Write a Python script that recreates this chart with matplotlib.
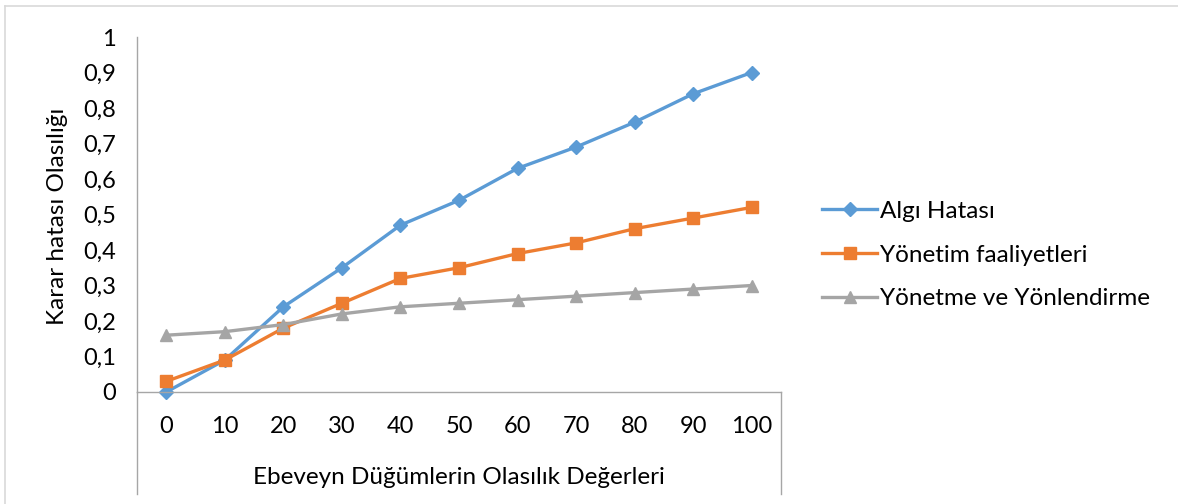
import matplotlib
matplotlib.use("Agg")
import matplotlib.pyplot as plt
from matplotlib.lines import Line2D

# Data
categories = ["0", "10", "20", "30", "40", "50", "60", "70", "80", "90", "100"]
algi_hatasi = [0.00, 0.09, 0.24, 0.35, 0.47, 0.54, 0.63, 0.69, 0.76, 0.84, 0.90]
yonetim_faaliyetleri = [0.03, 0.09, 0.18, 0.25, 0.32, 0.35, 0.39, 0.42, 0.46, 0.49, 0.52]
yonetme_yonlendirme = [0.16, 0.17, 0.19, 0.22, 0.24, 0.25, 0.26, 0.27, 0.28, 0.29, 0.30]
series_names = ["Algı Hatası", "Yönetim faaliyetleri", "Yönetme ve Yönlendirme"]
y_ticks = [0, 0.1, 0.2, 0.3, 0.4, 0.5, 0.6, 0.7, 0.8, 0.9, 1.0]
y_tick_labels = ["0", "0,1", "0,2", "0,3", "0,4", "0,5", "0,6", "0,7", "0,8", "0,9", "1"]
x_title = "Ebeveyn Düğümlerin Olasılık Değerleri"
y_title = "Karar hatası Olasılığı"

plt.rcParams["font.family"] = ["Lato", "DejaVu Sans"]
FS = 17
FS_TEXT = 17.5

W, H = 1178, 504
fig = plt.figure(figsize=(W / 100, H / 100), dpi=100)

def fx(px):
    return px / W

def fy(py):
    return 1 - py / H

# Plot area
x0, x1, ytop, ybot = 137, 781, 37, 392
ax = fig.add_axes([fx(x0), fy(ybot), fx(x1) - fx(x0), fy(ytop) - fy(ybot)])
ax.set_xlim(-0.5, len(categories) - 0.5)
ax.set_ylim(0, 1)

xs = list(range(len(categories)))
blue, orange, gray = "#5B9BD5", "#ED7D31", "#A5A5A5"
ax.plot(xs, algi_hatasi, color=blue, lw=2.4, marker="D", ms=7.5, label=series_names[0], clip_on=False)
ax.plot(xs, yonetim_faaliyetleri, color=orange, lw=2.4, marker="s", ms=9, label=series_names[1], clip_on=False)
ax.plot(xs, yonetme_yonlendirme, color=gray, lw=2.4, marker="^", ms=9, label=series_names[2], clip_on=False)

ax.set_xticks(xs)
ax.set_xticklabels(categories)
ax.set_yticks(y_ticks)
ax.set_yticklabels(y_tick_labels)
ax.tick_params(axis="both", length=0, labelsize=FS, colors="black")
ax.tick_params(axis="y", pad=15)
ax.tick_params(axis="x", pad=17)

for s in ("top", "right"):
    ax.spines[s].set_visible(False)
ax.spines["left"].set_color("#A6A6A6")
ax.spines["bottom"].set_color("#A6A6A6")
ax.spines["left"].set_linewidth(1.0)
ax.spines["bottom"].set_linewidth(1.0)
ax.patch.set_visible(False)

# Category label box below the axis
for px in (x0, x1):
    fig.add_artist(Line2D([fx(px), fx(px)], [fy(ybot), fy(494)], color="#A6A6A6", lw=1.0))

# Outer chart border
fig.add_artist(Line2D([fx(5), fx(5)], [fy(6), 0], color="#D9D9D9", lw=1.2))
fig.add_artist(Line2D([fx(5), 1], [fy(6), fy(6)], color="#D9D9D9", lw=1.2))

fig.text(fx(459), fy(478), x_title, ha="center", va="center", fontsize=FS_TEXT)
fig.text(fx(57), fy(216), y_title, ha="center", va="center", rotation=90, fontsize=FS_TEXT)

ax.legend(loc="center left", bbox_to_anchor=(fx(822), fy(255)), bbox_transform=fig.transFigure,
          frameon=False, fontsize=FS_TEXT, handlelength=2.27, handletextpad=0.13,
          labelspacing=0.93, borderpad=0, borderaxespad=0)

fig.savefig("out.png", dpi=100)
